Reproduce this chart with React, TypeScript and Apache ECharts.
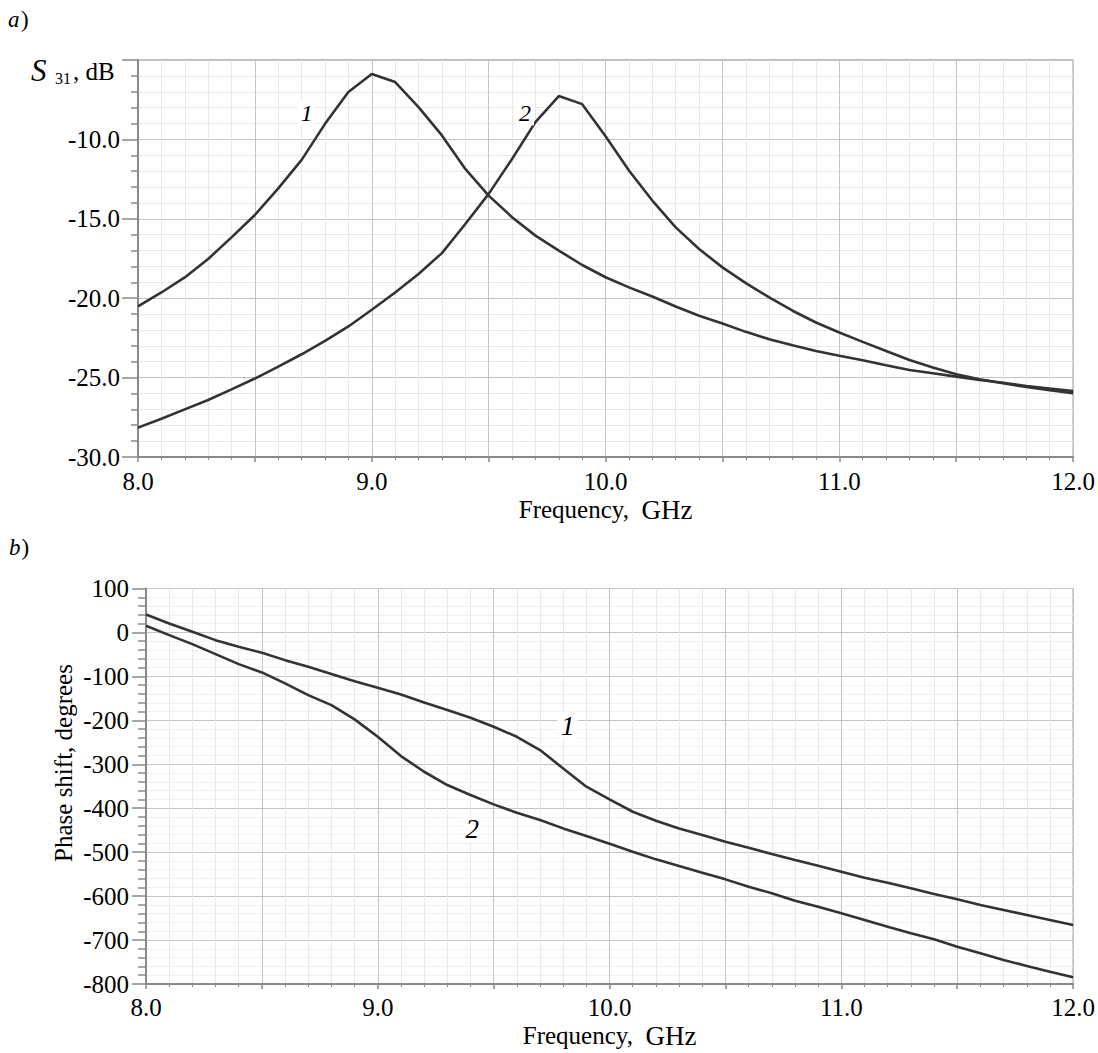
import React, { useEffect, useRef } from 'react';
import * as echarts from 'echarts';

// Frequency grid, GHz
const freq = [
  8.0, 8.1, 8.2, 8.3, 8.4, 8.5, 8.6, 8.7, 8.8, 8.9,
  9.0, 9.1, 9.2, 9.3, 9.4, 9.5, 9.6, 9.7, 9.8, 9.9,
  10.0, 10.1, 10.2, 10.3, 10.4, 10.5, 10.6, 10.7, 10.8, 10.9,
  11.0, 11.1, 11.2, 11.3, 11.4, 11.5, 11.6, 11.7, 11.8, 11.9,
  12.0,
];

// Panel a) S31, dB
const s31Curve1 = [
  -20.52, -19.64, -18.69, -17.53, -16.17, -14.76, -13.08, -11.29, -9.02, -7.02,
  -5.88, -6.39, -7.97, -9.75, -11.86, -13.54, -14.9, -16.06, -17.0, -17.91,
  -18.68, -19.32, -19.89, -20.52, -21.11, -21.59, -22.12, -22.58, -22.96, -23.32,
  -23.63, -23.91, -24.22, -24.52, -24.73, -24.94, -25.15, -25.32, -25.53, -25.69,
  -25.84,
];
const s31Curve2 = [
  -28.15, -27.59, -27.0, -26.41, -25.74, -25.06, -24.31, -23.53, -22.69, -21.78,
  -20.73, -19.64, -18.48, -17.16, -15.33, -13.43, -11.23, -8.91, -7.27, -7.78,
  -9.8, -11.96, -13.85, -15.54, -16.9, -18.06, -19.05, -19.95, -20.79, -21.53,
  -22.16, -22.75, -23.32, -23.89, -24.37, -24.79, -25.1, -25.36, -25.59, -25.8,
  -25.99,
];

// Panel b) Phase shift, degrees
const phaseCurve1 = [
  40.9, 20.4, 1.4, -17.5, -32.7, -46.3, -63, -78.2, -94.8, -110.8,
  -125.9, -141.1, -159.3, -176.7, -194.2, -214.6, -237.4, -267.7, -309.4, -351.1,
  -380, -408, -428.4, -445.9, -461, -476.2, -489.8, -504.2, -517.9, -530.8,
  -544.4, -558.1, -569.4, -582.3, -595.2, -607.3, -620.2, -631.6, -643, -654.4,
  -665.7,
];
const phaseCurve2 = [
  15.1, -6.1, -26.6, -49.3, -72.1, -91, -116, -142.6, -165.4, -197.9,
  -237.4, -281.4, -317, -347.3, -370, -391.3, -410.2, -426.9, -445.9, -463.3,
  -481, -498.9, -516.4, -531.5, -546.7, -561.9, -578.5, -593.7, -610.4, -624,
  -639.2, -654.3, -669.5, -684.7, -698.3, -715, -730.2, -745.4, -759, -771.9,
  -784.8,
];

const FONT = 'Liberation Serif';
const AXIS_GRAY = '#8a8a8a';
const LINE_COLOR = '#333333';

function xAxisFor(gridIndex: number, nameGap: number, labelMargin: number) {
  return {
    type: 'value',
    gridIndex,
    min: 8,
    max: 12,
    interval: 0.5,
    axisLine: { show: true, onZero: false, lineStyle: { color: AXIS_GRAY, width: 2 } },
    axisTick: { show: true, length: 5, lineStyle: { color: AXIS_GRAY, width: 1.5 } },
    minorTick: { show: true, splitNumber: 5, length: 3, lineStyle: { color: AXIS_GRAY, width: 1 } },
    axisLabel: {
      formatter: (v: number) => (Math.abs(v - Math.round(v)) < 1e-6 ? v.toFixed(1) : ''),
      fontFamily: FONT,
      fontSize: 25,
      color: '#000',
      margin: labelMargin,
      showMinLabel: true,
      showMaxLabel: true,
      hideOverlap: false,
    },
    splitLine: { show: true, lineStyle: { color: '#c4c4c4', width: 1 } },
    minorSplitLine: { show: true, lineStyle: { color: '#e9e9e9', width: 1 } },
    name: '{a|Frequency,}\u00a0 {b|GHz}',
    nameLocation: 'middle',
    nameGap,
    nameTextStyle: {
      fontFamily: FONT,
      fontSize: 25,
      color: '#000',
      rich: {
        a: { fontFamily: FONT, fontSize: 25, color: '#000' },
        b: { fontFamily: FONT, fontSize: 27, color: '#000' },
      },
    },
  };
}

function lineSeries(xi: number, ys: number[]) {
  return {
    type: 'line',
    xAxisIndex: xi,
    yAxisIndex: xi,
    data: freq.map((f, i) => [f, ys[i]]),
    showSymbol: false,
    symbol: 'none',
    silent: true,
    lineStyle: { color: LINE_COLOR, width: 2.6 },
    itemStyle: { color: LINE_COLOR },
    z: 5,
  };
}

function txt(text: string, x: number, y: number, size: number, opts: any = {}) {
  return {
    type: 'text',
    x,
    y,
    rotation: opts.rotation || 0,
    z: 100,
    style: {
      text,
      fontFamily: FONT,
      fontSize: size,
      fontStyle: opts.italic ? 'italic' : 'normal',
      fill: '#000',
      align: opts.align || 'left',
      verticalAlign: 'middle',
      textAlign: opts.align || 'left',
      textVerticalAlign: 'middle',
      backgroundColor: opts.bg,
      padding: opts.bg ? [0, 3] : 0,
    },
  };
}

export default function App() {
  const ref = useRef<HTMLDivElement>(null);

  useEffect(() => {
    if (!ref.current) return;
    const chart = echarts.init(ref.current, null, { renderer: 'svg' });
    const option: any = {
      animation: false,
      backgroundColor: '#fff',
      textStyle: { fontFamily: FONT },
      grid: [
        { left: 138, top: 60, width: 936, height: 397, show: true, borderColor: '#7d7d7d', borderWidth: 1, containLabel: false },
        { left: 146, top: 588.5, width: 930, height: 395.5, show: true, borderColor: '#7d7d7d', borderWidth: 1, containLabel: false },
      ],
      xAxis: [xAxisFor(0, 39, 12), xAxisFor(1, 38, 11)],
      yAxis: [
        {
          type: 'value',
          gridIndex: 0,
          min: -30,
          max: -5,
          interval: 5,
          axisLine: { show: true, onZero: false, lineStyle: { color: AXIS_GRAY, width: 2 } },
          axisTick: { show: true, length: 16, lineStyle: { color: AXIS_GRAY, width: 1.5 } },
          minorTick: { show: true, splitNumber: 5, length: 7, lineStyle: { color: AXIS_GRAY, width: 1.5 } },
          axisLabel: {
            formatter: (v: number) => (v === -5 ? '' : v.toFixed(1)),
            fontFamily: FONT,
            fontSize: 25,
            color: '#000',
            margin: 18,
          },
          splitLine: { show: true, lineStyle: { color: '#c4c4c4', width: 1 } },
          minorSplitLine: { show: true, lineStyle: { color: '#e9e9e9', width: 1 } },
        },
        {
          type: 'value',
          gridIndex: 1,
          min: -800,
          max: 100,
          interval: 100,
          axisLine: { show: true, onZero: false, lineStyle: { color: AXIS_GRAY, width: 2 } },
          axisTick: { show: true, length: 14, lineStyle: { color: AXIS_GRAY, width: 1.5 } },
          minorTick: { show: true, splitNumber: 5, length: 8, lineStyle: { color: AXIS_GRAY, width: 1.5 } },
          axisLabel: {
            formatter: (v: number) => String(v),
            fontFamily: FONT,
            fontSize: 25,
            color: '#000',
            margin: 17,
          },
          splitLine: { show: true, lineStyle: { color: '#c4c4c4', width: 1 } },
          minorSplitLine: { show: true, lineStyle: { color: '#f1f1f1', width: 1 } },
        },
      ],
      series: [
        lineSeries(0, s31Curve1),
        lineSeries(0, s31Curve2),
        lineSeries(1, phaseCurve1),
        lineSeries(1, phaseCurve2),
      ],
      graphic: [
        txt('a', 8, 19, 23, { italic: true }),
        txt(')', 21, 19, 23),
        txt('S', 31, 70.5, 31, { italic: true }),
        txt('31', 55, 78, 16),
        txt(', dB', 73, 71.5, 25),
        txt('b', 9, 547, 23, { italic: true }),
        txt(')', 21.5, 547, 23),
        txt('Phase shift, degrees', 63, 763, 25, { align: 'center', rotation: Math.PI / 2 }),
        txt('1', 306.7, 113.3, 24, { italic: true, align: 'center', bg: '#fff' }),
        txt('2', 525, 113.3, 24, { italic: true, align: 'center', bg: '#fff' }),
        txt('1', 567.7, 725.7, 28, { italic: true, align: 'center', bg: '#fff' }),
        txt('2', 472.3, 829.3, 27, { italic: true, align: 'center', bg: '#fff' }),
      ],
    };
    chart.setOption(option);
    return () => {
      chart.dispose();
    };
  }, []);

  return (
    <div
      ref={ref}
      style={{ position: 'absolute', left: 0, top: 0, width: 1098, height: 1053, background: '#fff' }}
    />
  );
}
